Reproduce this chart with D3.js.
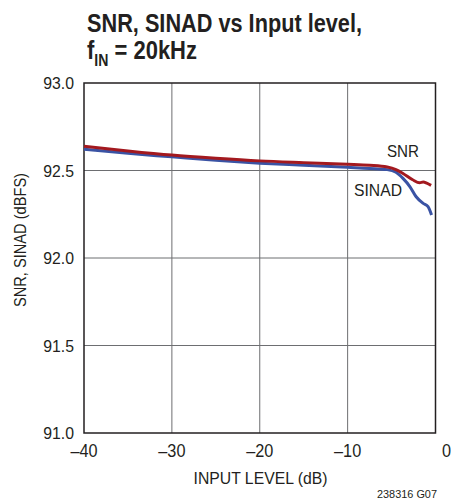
<!DOCTYPE html>
<html>
<head>
<meta charset="utf-8">
<script src="https://cdn.jsdelivr.net/npm/d3@7"></script>
<style>
body { margin: 0; background: #fff; }
text { font-family: "Liberation Sans", Arial, sans-serif; fill: #231f20; }
</style>
</head>
<body>
<div id="chart"></div>
<script>
// values
var snrX   = [-40, -35, -30, -25, -20, -15, -10, -7.5, -5.5, -4.5, -3.7, -2.6, -1.8, -1.4, -1.0, -0.5];
var snrY   = [92.639, 92.612, 92.588, 92.570, 92.555, 92.545, 92.536, 92.530, 92.520, 92.505, 92.483, 92.447, 92.430, 92.434, 92.428, 92.415];
var sinadX = [-40, -35, -30, -25, -20, -15, -10, -7.5, -5.5, -4.5, -3.7, -2.9, -2.2, -1.4, -0.85, -0.45];
var sinadY = [92.622, 92.598, 92.578, 92.558, 92.542, 92.530, 92.518, 92.512, 92.505, 92.490, 92.455, 92.407, 92.350, 92.312, 92.293, 92.246];
var xTicks = [-40, -30, -20, -10, 0];
var yTicks = [91.0, 91.5, 92.0, 92.5, 93.0];

var width = 451, height = 500;
var margin = {left: 84, right: 15, top: 83, bottom: 67};

var svg = d3.select("#chart")
    .append("svg")
    .attr("width", width)
    .attr("height", height);

var x = d3.scaleLinear().domain([-40, 0]).range([margin.left, width - margin.right - 0.5]);
var y = d3.scaleLinear().domain([91, 93]).range([height - margin.bottom, margin.top]);

// squeeze text horizontally to mimic the condensed face of the original
function condense(sel, target) {
    sel.each(function() {
        var w = target || this.getComputedTextLength() * 0.93;
        d3.select(this).attr("textLength", w).attr("lengthAdjust", "spacingAndGlyphs");
    });
}

// title
svg.append("text")
    .attr("x", 87)
    .attr("y", 32)
    .attr("font-size", 25)
    .attr("font-weight", "bold")
    .text("SNR, SINAD vs Input level,")
    .call(condense, 275);

var t2 = svg.append("text")
    .attr("x", 87)
    .attr("y", 59)
    .attr("font-size", 25)
    .attr("font-weight", "bold");
t2.append("tspan").text("f");
t2.append("tspan").attr("font-size", 16).attr("dy", 6.7).text("IN");
t2.append("tspan").attr("dy", -6.7).text(" = 20kHz");
t2.call(condense, 110);

// grid
svg.append("g").selectAll("line")
    .data(xTicks.slice(1, -1))
    .enter().append("line")
    .attr("x1", function(d){ return x(d); })
    .attr("x2", function(d){ return x(d); })
    .attr("y1", y(91))
    .attr("y2", y(93))
    .attr("stroke", "#6d6e71")
    .attr("stroke-width", 1);

svg.append("g").selectAll("line")
    .data(yTicks.slice(1, -1))
    .enter().append("line")
    .attr("x1", x(-40))
    .attr("x2", x(0))
    .attr("y1", function(d){ return y(d); })
    .attr("y2", function(d){ return y(d); })
    .attr("stroke", "#6d6e71")
    .attr("stroke-width", 1);

svg.append("rect")
    .attr("x", x(-40))
    .attr("y", y(93))
    .attr("width", x(0) - x(-40))
    .attr("height", y(91) - y(93))
    .attr("fill", "none")
    .attr("stroke", "#231f20")
    .attr("stroke-width", 1.5);

// tick labels
svg.append("g").selectAll("text")
    .data(xTicks)
    .enter().append("text")
    .attr("x", function(d){ return x(d) + (d == 0 ? 11 : 0); })
    .attr("y", 457)
    .attr("text-anchor", "middle")
    .attr("font-size", 17.5)
    .text(function(d){ return d == 0 ? "0" : "\u2013" + Math.abs(d); })
    .call(condense);

svg.append("g").selectAll("text")
    .data(yTicks)
    .enter().append("text")
    .attr("x", 74)
    .attr("y", function(d){ return y(d) + 6.3; })
    .attr("text-anchor", "end")
    .attr("font-size", 17)
    .text(function(d){ return d.toFixed(1); })
    .call(condense);

// axis titles
svg.append("text")
    .attr("x", 260.5)
    .attr("y", 484)
    .attr("text-anchor", "middle")
    .attr("font-size", 17)
    .text("INPUT LEVEL (dB)")
    .call(condense, 134);

svg.append("text")
    .attr("transform", "translate(26,240) rotate(-90)")
    .attr("text-anchor", "middle")
    .attr("font-size", 16.5)
    .text("SNR, SINAD (dBFS)")
    .call(condense, 134);

svg.append("text")
    .attr("x", 437)
    .attr("y", 498)
    .attr("text-anchor", "end")
    .attr("font-size", 10.5)
    .text("238316 G07")
    .call(condense, 60);

// curves
var line = d3.line()
    .x(function(d){ return x(d[0]); })
    .y(function(d){ return y(d[1]); })
    .curve(d3.curveMonotoneX);

svg.append("path")
    .datum(sinadX.map(function(d, i){ return [d, sinadY[i]]; }))
    .attr("d", line)
    .attr("fill", "none")
    .attr("stroke", "#3a53a4")
    .attr("stroke-width", 3);

svg.append("path")
    .datum(snrX.map(function(d, i){ return [d, snrY[i]]; }))
    .attr("d", line)
    .attr("fill", "none")
    .attr("stroke", "#a3191f")
    .attr("stroke-width", 3);

// series labels
svg.append("text")
    .attr("x", 387)
    .attr("y", 157)
    .attr("font-size", 17)
    .text("SNR")
    .call(condense, 32);

svg.append("text")
    .attr("x", 354)
    .attr("y", 196)
    .attr("font-size", 17)
    .text("SINAD")
    .call(condense, 48);
</script>
</body>
</html>
